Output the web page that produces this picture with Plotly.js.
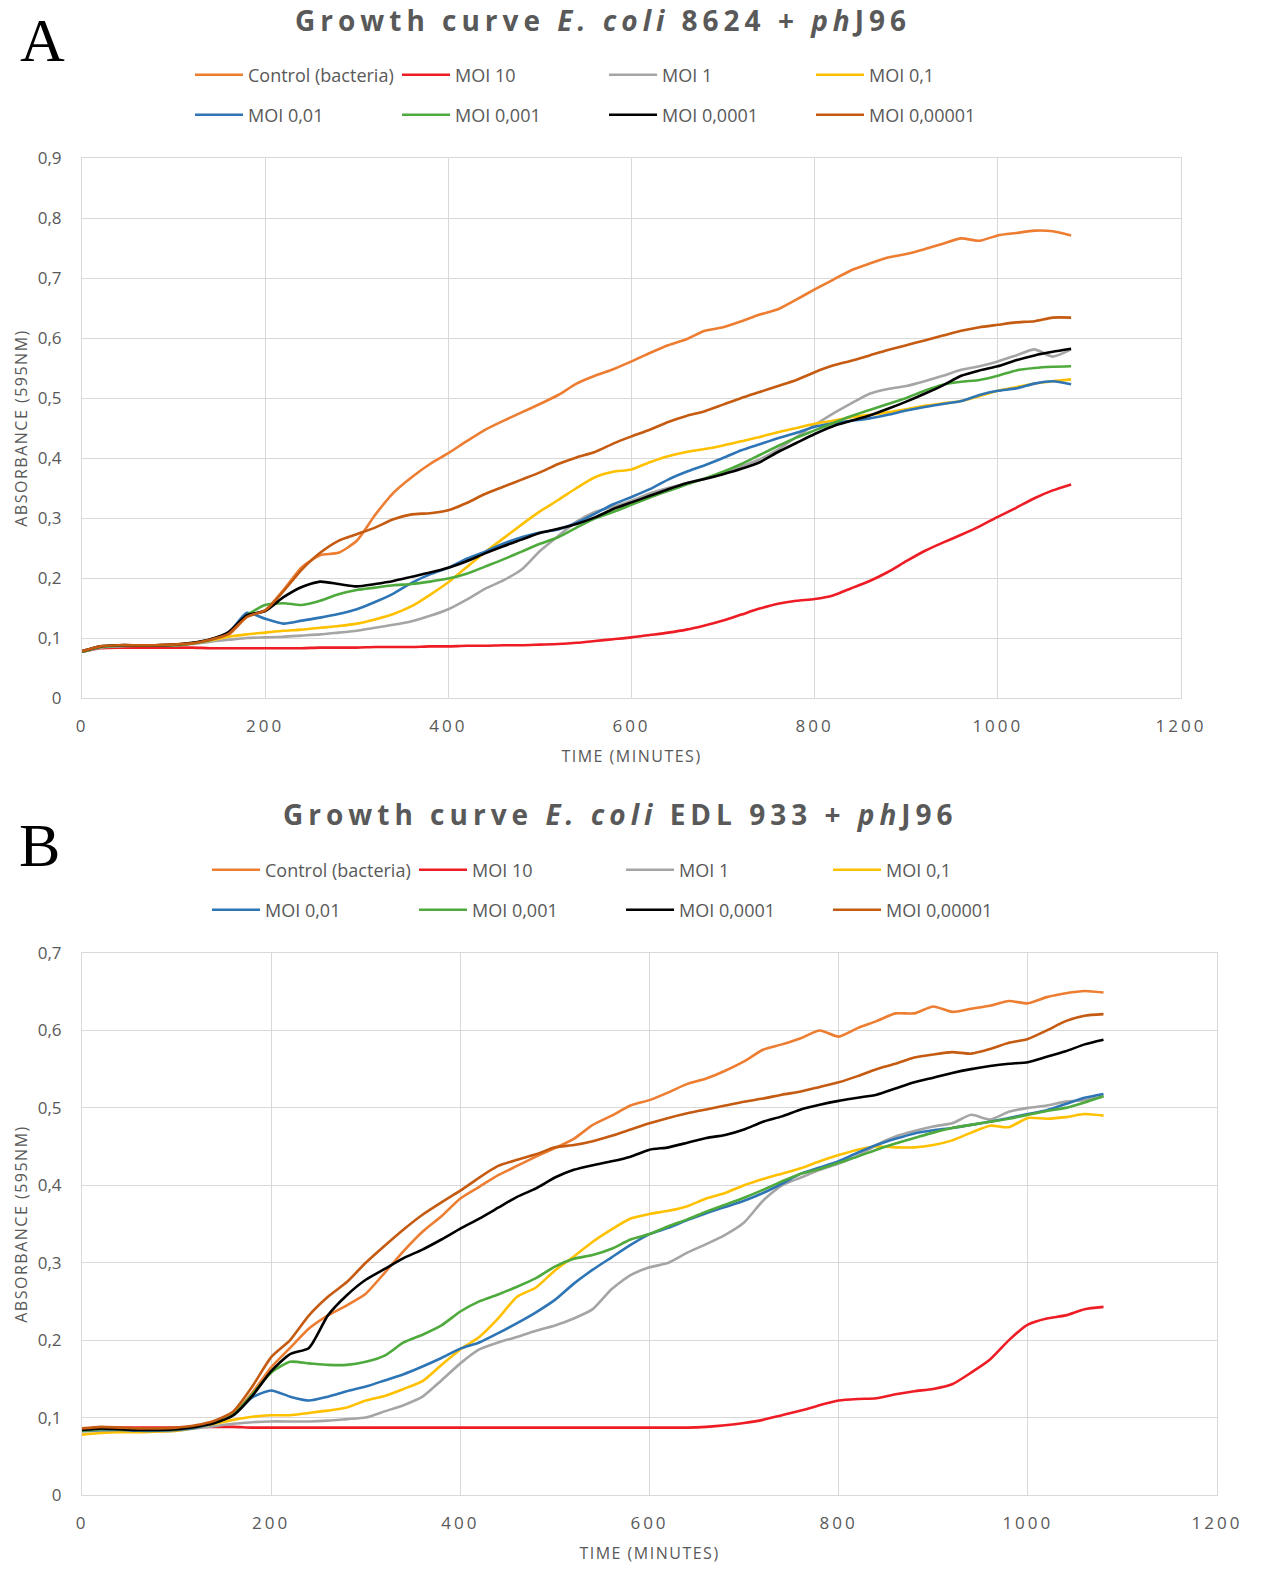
<!DOCTYPE html>
<html><head><meta charset="utf-8">
<script src="https://cdn.plot.ly/plotly-3.0.1.min.js"></script>
<style>
html,body{margin:0;padding:0;background:#fff;}
#chart{width:1265px;height:1569px;}
.gtitle,.annotation-text{letter-spacing:5px;}
.xtick text,.x2tick text{letter-spacing:3px;}
.xtitle,.ytitle,.x2title,.y2title{letter-spacing:1.5px;}
</style></head><body><div id="chart"></div>
<script>
const time_min = [0,20,40,60,80,100,120,140,160,180,200,220,240,260,280,300,320,340,360,380,400,420,440,460,480,500,520,540,560,580,600,620,640,660,680,700,720,740,760,780,800,820,840,860,880,900,920,940,960,980,1000,1020,1040,1060,1080];

const series_names = ["Control (bacteria)","MOI 10","MOI 1","MOI 0,1","MOI 0,01","MOI 0,001","MOI 0,0001","MOI 0,00001"];
const series_colors = ["#ED7D31","#EE1C24","#A5A5A5","#FFC000","#2E75B6","#4EAA3C","#000000","#C55A11"];

// Chart A: E. coli 8624 + phJ96
const a_control = [0.077,0.085,0.087,0.087,0.088,0.089,0.091,0.097,0.105,0.135,0.146,0.180,0.218,0.238,0.242,0.262,0.305,0.342,0.368,0.390,0.408,0.428,0.447,0.462,0.476,0.490,0.505,0.524,0.537,0.548,0.561,0.575,0.588,0.598,0.612,0.618,0.628,0.639,0.648,0.664,0.681,0.697,0.713,0.724,0.734,0.740,0.748,0.757,0.766,0.762,0.771,0.775,0.779,0.778,0.771];
const a_moi10 = [0.077,0.083,0.084,0.084,0.084,0.084,0.084,0.083,0.083,0.083,0.083,0.083,0.083,0.084,0.084,0.084,0.085,0.085,0.085,0.086,0.086,0.087,0.087,0.088,0.088,0.089,0.090,0.092,0.095,0.098,0.101,0.105,0.109,0.114,0.121,0.129,0.139,0.149,0.157,0.162,0.165,0.171,0.183,0.195,0.210,0.228,0.245,0.259,0.272,0.286,0.302,0.317,0.333,0.346,0.356];
const a_moi1 = [0.077,0.084,0.086,0.087,0.087,0.088,0.090,0.094,0.097,0.100,0.101,0.102,0.104,0.106,0.109,0.112,0.117,0.122,0.128,0.137,0.148,0.164,0.182,0.196,0.214,0.245,0.270,0.294,0.310,0.319,0.329,0.341,0.350,0.358,0.366,0.374,0.386,0.398,0.414,0.435,0.455,0.474,0.491,0.507,0.515,0.520,0.528,0.537,0.547,0.553,0.561,0.571,0.581,0.569,0.581];
const a_moi01 = [0.077,0.085,0.087,0.087,0.088,0.088,0.091,0.096,0.102,0.106,0.109,0.112,0.114,0.117,0.120,0.124,0.131,0.140,0.153,0.172,0.193,0.218,0.243,0.266,0.289,0.311,0.330,0.350,0.368,0.377,0.381,0.393,0.403,0.410,0.415,0.421,0.428,0.435,0.443,0.450,0.457,0.462,0.468,0.472,0.476,0.481,0.487,0.491,0.495,0.503,0.512,0.518,0.524,0.528,0.531];
const a_moi001 = [0.077,0.085,0.087,0.087,0.088,0.088,0.091,0.097,0.108,0.142,0.132,0.124,0.129,0.134,0.140,0.148,0.160,0.174,0.192,0.206,0.217,0.232,0.244,0.257,0.268,0.276,0.281,0.292,0.307,0.323,0.335,0.348,0.364,0.377,0.388,0.400,0.413,0.423,0.433,0.442,0.452,0.458,0.462,0.466,0.472,0.479,0.485,0.490,0.495,0.505,0.512,0.516,0.524,0.528,0.523];
const a_moi0001 = [0.077,0.085,0.087,0.087,0.088,0.088,0.091,0.097,0.108,0.138,0.155,0.158,0.155,0.162,0.173,0.180,0.184,0.188,0.190,0.194,0.199,0.207,0.219,0.231,0.244,0.257,0.268,0.284,0.299,0.310,0.322,0.334,0.345,0.356,0.366,0.377,0.390,0.405,0.420,0.434,0.446,0.458,0.470,0.480,0.490,0.500,0.512,0.522,0.527,0.530,0.537,0.546,0.550,0.552,0.553];
const a_moi00001 = [0.078,0.086,0.088,0.088,0.088,0.089,0.092,0.098,0.110,0.138,0.145,0.168,0.185,0.194,0.190,0.186,0.190,0.195,0.202,0.209,0.217,0.228,0.241,0.253,0.264,0.275,0.282,0.290,0.301,0.315,0.326,0.337,0.348,0.358,0.365,0.373,0.382,0.393,0.410,0.425,0.440,0.453,0.462,0.471,0.482,0.494,0.507,0.521,0.537,0.546,0.553,0.563,0.571,0.577,0.582];
const a_moi000001 = [0.078,0.086,0.088,0.088,0.088,0.089,0.091,0.097,0.107,0.135,0.146,0.178,0.214,0.242,0.262,0.273,0.284,0.298,0.306,0.308,0.313,0.325,0.340,0.352,0.364,0.376,0.390,0.401,0.410,0.424,0.436,0.447,0.460,0.470,0.478,0.489,0.500,0.510,0.520,0.530,0.543,0.554,0.562,0.571,0.580,0.588,0.596,0.604,0.612,0.618,0.622,0.626,0.628,0.634,0.634];

// Chart B: E. coli EDL 933 + phJ96
const b_control = [0.083,0.085,0.085,0.084,0.084,0.085,0.088,0.094,0.105,0.132,0.165,0.190,0.215,0.232,0.245,0.260,0.287,0.315,0.340,0.360,0.383,0.398,0.413,0.425,0.437,0.448,0.460,0.478,0.490,0.503,0.510,0.520,0.531,0.538,0.548,0.560,0.575,0.582,0.590,0.600,0.592,0.603,0.612,0.622,0.622,0.631,0.624,0.628,0.632,0.638,0.635,0.643,0.648,0.651,0.649];
const b_moi10 = [0.085,0.087,0.087,0.087,0.087,0.087,0.088,0.088,0.088,0.087,0.087,0.087,0.087,0.087,0.087,0.087,0.087,0.087,0.087,0.087,0.087,0.087,0.087,0.087,0.087,0.087,0.087,0.087,0.087,0.087,0.087,0.087,0.087,0.088,0.090,0.093,0.097,0.103,0.109,0.116,0.122,0.124,0.125,0.130,0.134,0.137,0.143,0.158,0.175,0.200,0.220,0.228,0.232,0.240,0.243];
const b_moi1 = [0.082,0.083,0.083,0.082,0.082,0.083,0.086,0.089,0.092,0.094,0.095,0.095,0.095,0.096,0.098,0.100,0.108,0.116,0.127,0.148,0.170,0.188,0.197,0.204,0.212,0.219,0.228,0.240,0.266,0.284,0.294,0.300,0.313,0.324,0.336,0.352,0.380,0.400,0.410,0.420,0.428,0.438,0.452,0.463,0.470,0.476,0.480,0.491,0.485,0.495,0.500,0.503,0.508,0.510,0.515];
const b_moi01 = [0.078,0.080,0.081,0.081,0.082,0.083,0.087,0.092,0.097,0.101,0.103,0.103,0.106,0.109,0.113,0.122,0.128,0.137,0.147,0.168,0.188,0.204,0.228,0.256,0.268,0.290,0.308,0.327,0.343,0.357,0.363,0.367,0.373,0.383,0.390,0.400,0.408,0.415,0.422,0.431,0.439,0.446,0.450,0.449,0.449,0.452,0.458,0.468,0.477,0.475,0.487,0.486,0.488,0.492,0.490];
const b_moi001 = [0.083,0.084,0.084,0.083,0.083,0.084,0.087,0.093,0.103,0.126,0.135,0.127,0.122,0.127,0.134,0.140,0.148,0.156,0.166,0.177,0.189,0.197,0.209,0.222,0.236,0.252,0.273,0.291,0.307,0.323,0.337,0.345,0.355,0.364,0.372,0.380,0.390,0.402,0.415,0.423,0.431,0.442,0.452,0.460,0.467,0.471,0.474,0.478,0.482,0.487,0.492,0.497,0.505,0.513,0.518];
const b_moi0001 = [0.083,0.085,0.085,0.084,0.084,0.085,0.088,0.093,0.104,0.130,0.158,0.172,0.170,0.168,0.168,0.172,0.180,0.197,0.207,0.219,0.237,0.250,0.259,0.269,0.280,0.295,0.305,0.310,0.318,0.330,0.337,0.347,0.356,0.366,0.375,0.384,0.394,0.405,0.415,0.421,0.429,0.437,0.446,0.454,0.461,0.468,0.474,0.478,0.482,0.486,0.491,0.496,0.500,0.507,0.515];
const b_moi00001 = [0.084,0.086,0.085,0.084,0.084,0.085,0.088,0.093,0.103,0.128,0.160,0.182,0.190,0.232,0.258,0.278,0.292,0.306,0.317,0.330,0.344,0.357,0.371,0.385,0.396,0.410,0.420,0.426,0.431,0.437,0.446,0.449,0.455,0.461,0.465,0.472,0.482,0.489,0.498,0.504,0.509,0.513,0.517,0.525,0.533,0.539,0.545,0.550,0.554,0.557,0.559,0.566,0.573,0.582,0.588];
const b_moi000001 = [0.086,0.088,0.087,0.086,0.086,0.087,0.090,0.096,0.108,0.140,0.178,0.200,0.232,0.256,0.275,0.300,0.322,0.343,0.362,0.378,0.393,0.410,0.425,0.433,0.440,0.449,0.452,0.457,0.464,0.472,0.480,0.487,0.493,0.498,0.503,0.508,0.512,0.517,0.521,0.527,0.533,0.541,0.550,0.557,0.565,0.569,0.572,0.570,0.576,0.584,0.589,0.600,0.612,0.619,0.621];

const a_series = [a_control,a_moi10,a_moi1,a_moi01,a_moi001,a_moi0001,a_moi00001,a_moi000001];
const b_series = [b_control,b_moi10,b_moi1,b_moi01,b_moi001,b_moi0001,b_moi00001,b_moi000001];

const x_ticks = [0,200,400,600,800,1000,1200];

const W = 1265, H = 1569;
const px = v => v / W;
const py = v => 1 - v / H;

const traces = [];
function addSet(arr, xa, ya, legRow1, legRow2) {
  arr.forEach((ys, i) => {
    traces.push({
      type: 'scatter', mode: 'lines', x: time_min, y: ys,
      name: series_names[i], xaxis: xa, yaxis: ya,
      legend: i < 4 ? legRow1 : legRow2,
      line: {color: series_colors[i], width: 2.6, shape: 'spline', smoothing: 0.6},
      hoverinfo: 'skip'
    });
  });
}
addSet(a_series, 'x', 'y', 'legend', 'legend2');
addSet(b_series, 'x2', 'y2', 'legend3', 'legend4');

const tickFont = {family: 'Open Sans', size: 17, color: '#595959'};
const axTitleFont = {family: 'Open Sans', size: 16, color: '#595959'};
function xAxis(domain, anchor) {
  return {domain: domain, anchor: anchor, range: [0, 1200], tickvals: x_ticks,
    showgrid: true, gridcolor: '#d9d9d9', gridwidth: 1, zeroline: false,
    showline: true, linecolor: '#d9d9d9', mirror: true, ticks: '', ticklabelstandoff: 13,
    tickfont: tickFont, fixedrange: true,
    title: {text: 'TIME (MINUTES)', font: axTitleFont, standoff: 14}};
}
function yAxis(domain, anchor, top) {
  return {domain: domain, anchor: anchor, range: [0, top], dtick: 0.1, tick0: 0,
    showgrid: true, gridcolor: '#d9d9d9', gridwidth: 1, zeroline: false,
    showline: true, linecolor: '#d9d9d9', mirror: true, ticks: '', ticklabelstandoff: 16,
    tickfont: tickFont, fixedrange: true,
    title: {text: 'ABSORBANCE (595NM)', font: axTitleFont, standoff: 6}};
}
function legend(xLeft, yCenter) {
  return {x: px(xLeft), y: py(yCenter), xanchor: 'left', yanchor: 'middle',
    orientation: 'h', entrywidth: 144, entrywidthmode: 'pixels', itemwidth: 48,
    font: {family: 'Open Sans', size: 18, color: '#595959'},
    bgcolor: 'rgba(0,0,0,0)', borderwidth: 0, traceorder: 'normal'};
}

const titleFont = {family: 'Open Sans', size: 28, color: '#595959', weight: 700};

const layout = {
  width: W, height: H, margin: {l: 0, r: 0, t: 0, b: 0},
  paper_bgcolor: '#ffffff', plot_bgcolor: '#ffffff',
  separators: ', ', showlegend: true,
  title: {text: 'Growth curve <i>E. coli</i> 8624 + <i>ph</i>J96', font: titleFont,
    x: px(603), xanchor: 'center', xref: 'paper', y: py(21), yanchor: 'middle', yref: 'paper'},
  xaxis: xAxis([px(82), px(1181)], 'y'),
  yaxis: yAxis([py(698), py(158)], 'x', 0.9),
  xaxis2: xAxis([px(82), px(1217)], 'y2'),
  yaxis2: yAxis([py(1495), py(953)], 'x2', 0.7),
  legend: legend(190, 75),
  legend2: legend(190, 115),
  legend3: legend(207, 870),
  legend4: legend(207, 910),
  annotations: [
    {text: 'Growth curve <i>E. coli</i> EDL 933 + <i>ph</i>J96', font: titleFont,
     x: px(620), y: py(814), xref: 'paper', yref: 'paper', xanchor: 'center', yanchor: 'middle', showarrow: false},
    {text: 'A', font: {family: 'Liberation Serif', size: 62, color: '#000'},
     x: px(45), y: py(40), xref: 'paper', yref: 'paper', xanchor: 'center', yanchor: 'middle', showarrow: false},
    {text: 'B', font: {family: 'Liberation Serif', size: 62, color: '#000'},
     x: px(42), y: py(845), xref: 'paper', yref: 'paper', xanchor: 'center', yanchor: 'middle', showarrow: false}
  ]
};

Plotly.newPlot('chart', traces, layout, {staticPlot: true, displayModeBar: false});
</script>
</body></html>
